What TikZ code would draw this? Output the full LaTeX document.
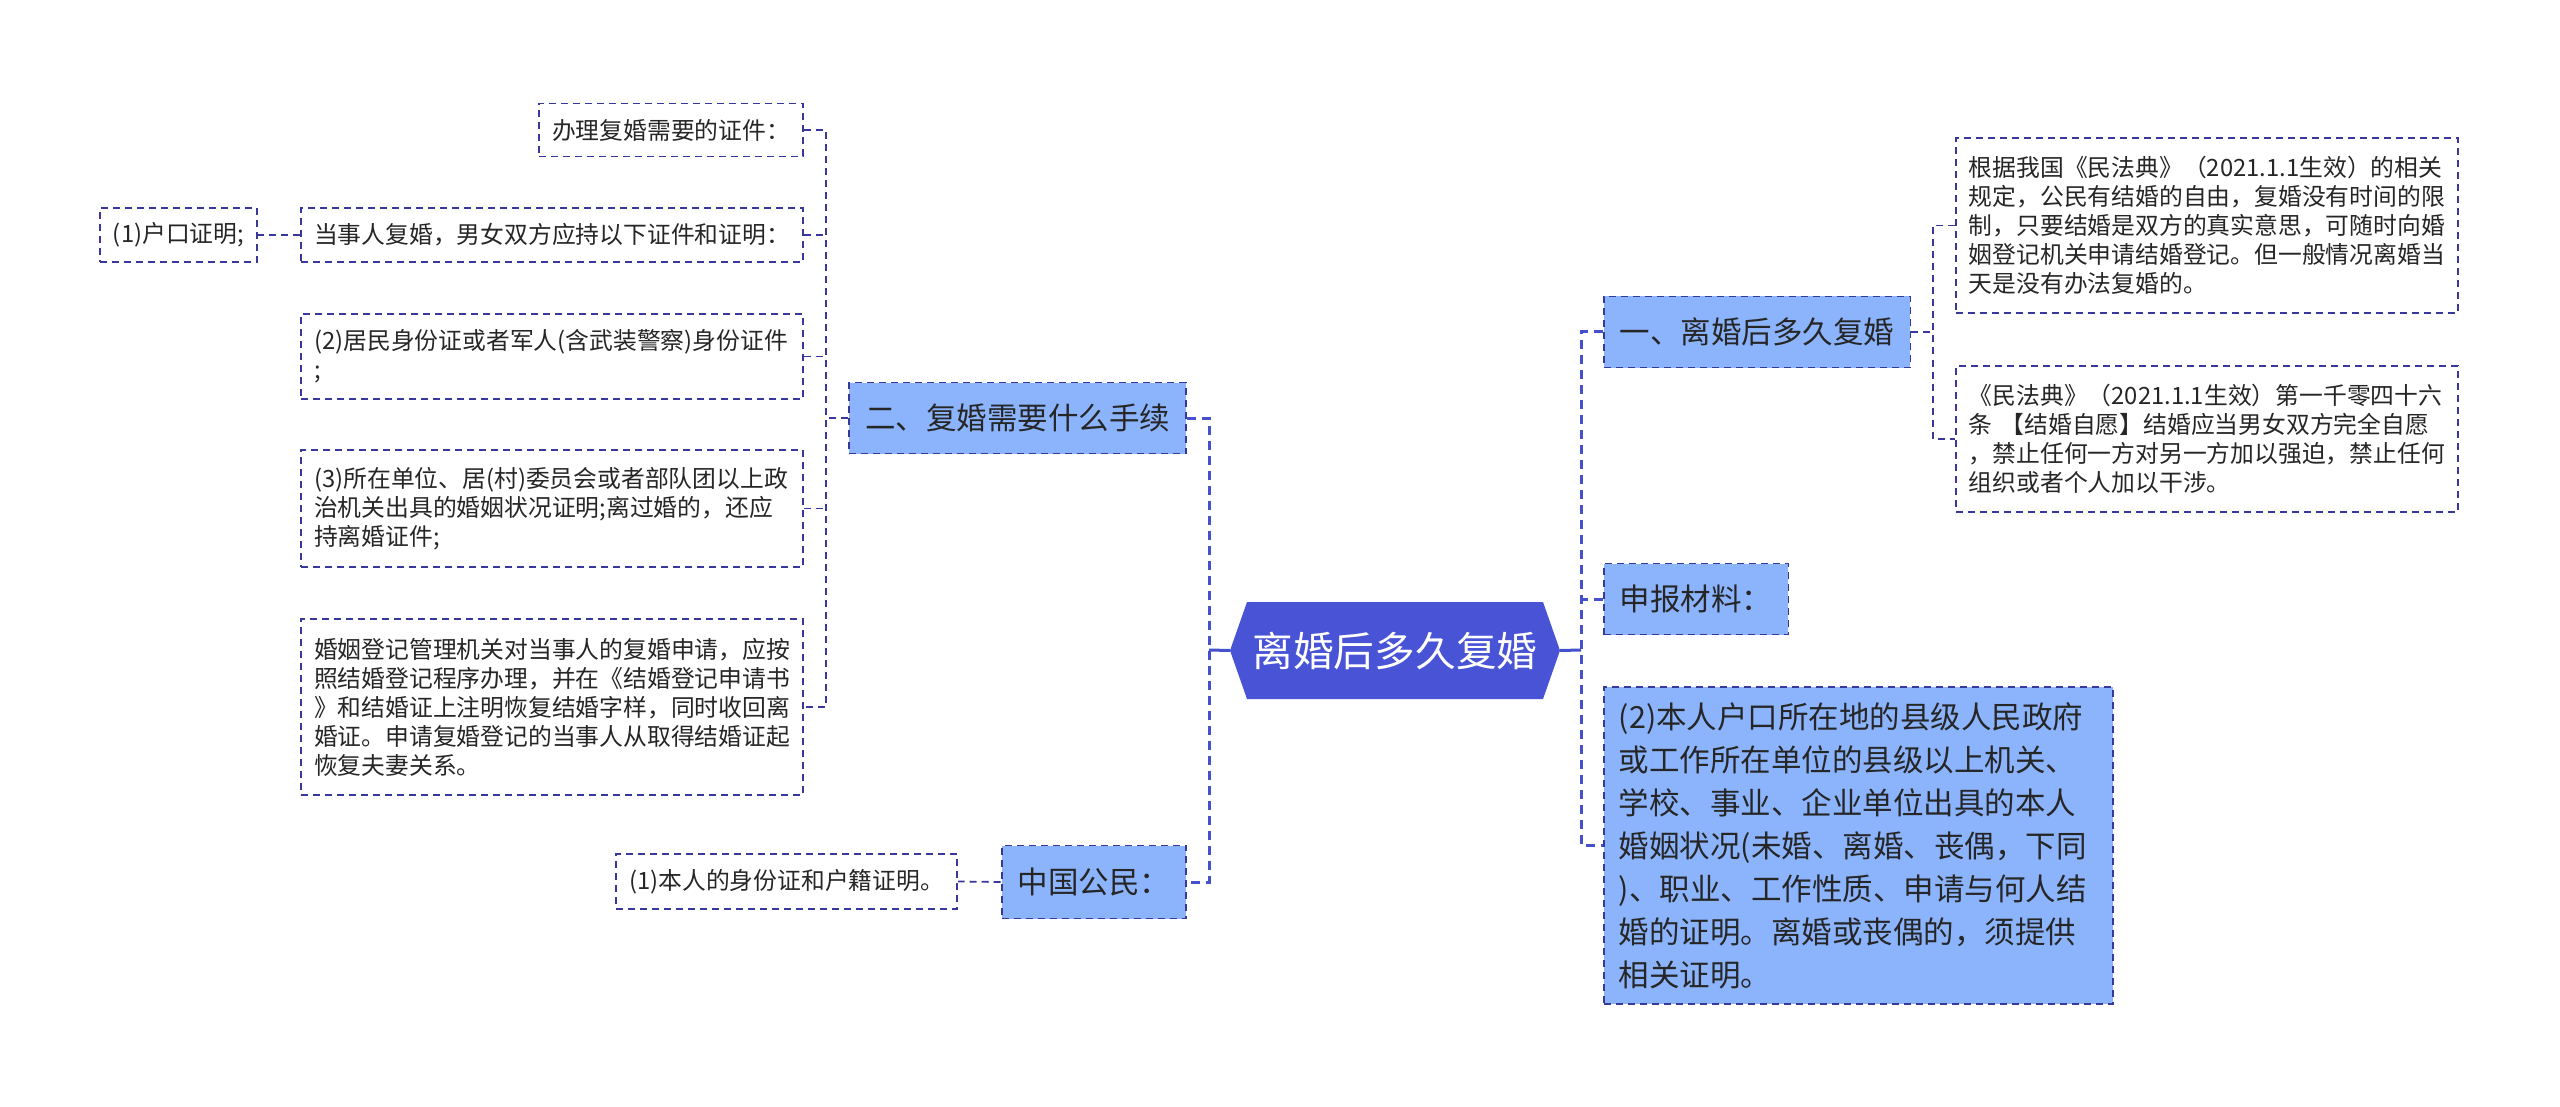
\documentclass[tikz,border=0pt]{standalone}
\usepackage{fontspec}
\setmainfont{Noto Sans CJK SC}
\definecolor{navy}{HTML}{38389A}
\definecolor{spine}{HTML}{4550CC}
\definecolor{topicfill}{HTML}{8CB4FD}
\definecolor{centerfill}{HTML}{4853D6}
\definecolor{txt}{HTML}{262626}
\begin{document}
\begin{tikzpicture}[x=1pt,y=-1pt,
  leaf/.style={draw=navy, line width=1.8pt, dash pattern=on 7pt off 5pt, text=txt,
    font=\fontsize{23.8}{29}\selectfont, inner xsep=13pt, inner ysep=0pt},
  leafw/.style={leaf, text width=476pt, align=left},
  topic/.style={draw=navy, fill=topicfill, line width=1.8pt, dash pattern=on 7pt off 5pt,
    text=txt, font=\fontsize{30.5}{43}\selectfont, inner xsep=16pt, inner ysep=0pt,
    minimum height=71pt},
  conn/.style={draw=navy, line width=1.8pt, dash pattern=on 7pt off 5pt},
  connc/.style={draw=spine, line width=3pt, dash pattern=on 9pt off 6pt},
  solidc/.style={draw=spine, line width=3pt},
]
\useasboundingbox[fill=white] (0,0) rectangle (2560,1107);

% centre
\fill[centerfill] (1247,602) -- (1543,602) -- (1560,650.5) -- (1543,699)
  -- (1247,699) -- (1230,650.5) -- cycle;
\node[font=\fontsize{40.7}{48}\selectfont, text=white, minimum width=330pt,
  minimum height=97pt, inner sep=0pt] (c) at (1395,650.5) {离婚后多久复婚};

% level 1
\node[topic, anchor=east] (n2) at (1187,418) {二、复婚需要什么手续};
\node[topic, anchor=east, minimum height=73pt] (ncn) at (1187,882) {中国公民：};
\node[topic, anchor=west] (n1) at (1603,332) {一、离婚后多久复婚};
\node[topic, anchor=west] (nsb) at (1603,599) {申报材料：};
\node[topic, anchor=west, text width=479pt, align=left, minimum height=317pt,
  inner xsep=15pt] (nbig) at (1603,845.5)
  {(2)本人户口所在地的县级人民政府\\或工作所在单位的县级以上机关、\\学校、事业、企业单位出具的本人\\婚姻状况(未婚、离婚、丧偶，下同\\)、职业、工作性质、申请与何人结\\婚的证明。离婚或丧偶的，须提供\\相关证明。};

% left leaves
\node[leaf, anchor=east, minimum height=53pt] (a1) at (804,130) {办理复婚需要的证件：};
\node[leaf, anchor=east, minimum height=54pt] (a2) at (804,235) {当事人复婚，男女双方应持以下证件和证明：};
\node[leaf, anchor=east, minimum height=54pt] (a2a) at (258,235) {(1)户口证明;};
\node[leafw, anchor=east, minimum height=85pt] (a3) at (804,356.5)
  {(2)居民身份证或者军人(含武装警察)身份证件\\;};
\node[leafw, anchor=east, minimum height=117pt] (a4) at (804,508.5)
  {(3)所在单位、居(村)委员会或者部队团以上政\\治机关出具的婚姻状况证明;离过婚的，还应\\持离婚证件;};
\node[leafw, anchor=east, minimum height=176pt] (a5) at (804,707)
  {婚姻登记管理机关对当事人的复婚申请，应按\\照结婚登记程序办理，并在《结婚登记申请书\\》和结婚证上注明恢复结婚字样，同时收回离\\婚证。申请复婚登记的当事人从取得结婚证起\\恢复夫妻关系。};
\node[leaf, anchor=east, minimum height=55pt] (b1) at (958,881.5) {(1)本人的身份证和户籍证明。};

% right leaves
\node[leafw, anchor=west, minimum height=175pt] (r1) at (1955,225.5)
  {根据我国《民法典》（2021.1.1生效）的相关\\规定，公民有结婚的自由，复婚没有时间的限\\制，只要结婚是双方的真实意思，可随时向婚\\姻登记机关申请结婚登记。但一般情况离婚当\\天是没有办法复婚的。};
\node[leafw, anchor=west, minimum height=146pt] (r2) at (1955,439)
  {《民法典》（2021.1.1生效）第一千零四十六\\条~【结婚自愿】结婚应当男女双方完全自愿\\，禁止任何一方对另一方加以强迫，禁止任何\\组织或者个人加以干涉。};

% junctions
\coordinate (jl) at (1209,650);
\coordinate (jr) at (1581,650);
\coordinate (j2) at (826,418);
\coordinate (j1) at (1933,332);

% centre connectors
\draw[solidc] (c.west) -- (jl);
\draw[solidc] (c.east) -- (jr);
\draw[connc] (n2.east) -| (jl) |- (ncn.east);
\draw[connc] (n1.west) -| (jr) |- (nbig.west);
\draw[connc] (nsb.west) -- (nsb.west -| jr);

% level 2 connectors
\draw[conn] (a1.east) -| (j2) |- (a5.east);
\draw[conn] (n2.west) -- (j2);
\draw[conn] (a2.east) -- (a2.east -| j2);
\draw[conn] (a3.east) -- (a3.east -| j2);
\draw[conn] (a4.east) -- (a4.east -| j2);
\draw[conn] (a2.west) -- (a2a.east);
\draw[conn] (ncn.west) -- (b1.east);
\draw[conn] (r1.west) -| (j1) |- (r2.west);
\draw[conn] (n1.east) -- (j1);
\end{tikzpicture}
\end{document}
